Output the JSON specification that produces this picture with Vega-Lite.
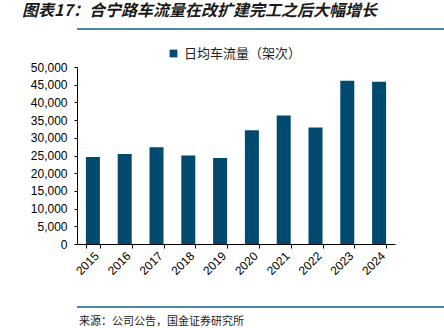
{
  "$schema": "https://vega.github.io/schema/vega-lite/v6.json",
  "padding": {"left": 19, "top": 3, "right": 0, "bottom": 0},
  "background": "white",
  "spacing": 17,
  "align": "none",
  "bounds": "full",
  "resolve": {
    "scale": {"color": "independent", "x": "independent", "y": "independent"},
    "legend": {"color": "independent"},
    "axis": {"x": "independent", "y": "independent"}
  },
  "title": {
    "text": "图表17：合宁路车流量在改扩建完工之后大幅增长",
    "anchor": "start",
    "frame": "bounds",
    "font": "Noto Sans CJK SC",
    "fontSize": 16,
    "fontWeight": "bold",
    "fontStyle": "italic",
    "color": "#1a1a1a",
    "dx": 3,
    "offset": 8
  },
  "config": {
    "view": {"stroke": null},
    "font": "Liberation Sans"
  },
  "datasets": {
    "traffic": [
      {"year": "2015", "value": 24600, "series": "日均车流量（架次）"},
      {"year": "2016", "value": 25400, "series": "日均车流量（架次）"},
      {"year": "2017", "value": 27350, "series": "日均车流量（架次）"},
      {"year": "2018", "value": 25000, "series": "日均车流量（架次）"},
      {"year": "2019", "value": 24300, "series": "日均车流量（架次）"},
      {"year": "2020", "value": 32150, "series": "日均车流量（架次）"},
      {"year": "2021", "value": 36300, "series": "日均车流量（架次）"},
      {"year": "2022", "value": 32900, "series": "日均车流量（架次）"},
      {"year": "2023", "value": 46150, "series": "日均车流量（架次）"},
      {"year": "2024", "value": 45850, "series": "日均车流量（架次）"}
    ],
    "topline": [{"a": 0, "b": 1, "c": 0}],
    "bottomline": [{"p": 0, "q": 1, "r": 0}]
  },
  "vconcat": [
    {
      "width": 425,
      "height": 2,
      "data": {"name": "topline"},
      "mark": {"type": "rule", "color": "#4a87a8", "strokeWidth": 2},
      "encoding": {
        "x": {"field": "a", "type": "quantitative", "axis": null, "scale": {"domain": [0, 1]}},
        "x2": {"field": "b"},
        "y": {"field": "c", "type": "quantitative", "axis": null, "scale": {"domain": [0, 1]}}
      }
    },
    {
      "width": 318,
      "height": 177,
      "data": {"name": "traffic"},
      "mark": {"type": "bar", "width": 14},
      "encoding": {
        "x": {
          "field": "year",
          "type": "nominal",
          "title": null,
          "scale": {"paddingInner": 0.55, "paddingOuter": 0.275},
          "axis": {
            "labelAngle": -45,
            "labelFont": "Liberation Sans",
            "labelFontSize": 12,
            "labelColor": "#000000",
            "tickBand": "extent",
            "tickSize": 4,
            "tickColor": "#000000",
            "domainColor": "#000000",
            "labelPadding": 2
          }
        },
        "y": {
          "field": "value",
          "type": "quantitative",
          "title": null,
          "scale": {"domain": [0, 50000], "nice": false},
          "axis": {
            "values": [0, 5000, 10000, 15000, 20000, 25000, 30000, 35000, 40000, 45000, 50000],
            "format": ",d",
            "grid": false,
            "labelFont": "Liberation Sans",
            "labelFontSize": 12,
            "labelColor": "#000000",
            "tickSize": 3,
            "tickColor": "#000000",
            "domainColor": "#000000",
            "labelPadding": 7,
            "minExtent": 58
          }
        },
        "color": {
          "field": "series",
          "type": "nominal",
          "scale": {"range": ["#004a6f"]},
          "legend": {
            "orient": "none",
            "legendX": 90,
            "legendY": -20,
            "direction": "horizontal",
            "title": null,
            "symbolType": "square",
            "symbolSize": 60,
            "labelFont": "Noto Sans CJK SC",
            "labelFontSize": 13,
            "labelColor": "#222222"
          }
        }
      }
    },
    {
      "width": 425,
      "height": 13,
      "data": {"name": "bottomline"},
      "title": {
        "text": "来源：公司公告，国金证券研究所",
        "orient": "bottom",
        "anchor": "start",
        "font": "Noto Sans CJK SC",
        "fontSize": 11,
        "fontWeight": "normal",
        "color": "#222222",
        "dx": 3,
        "offset": 8
      },
      "mark": {"type": "rule", "color": "#4a87a8", "strokeWidth": 2},
      "encoding": {
        "x": {"field": "p", "type": "quantitative", "axis": null, "scale": {"domain": [0, 1]}},
        "x2": {"field": "q"},
        "y": {"field": "r", "type": "quantitative", "axis": null, "scale": {"domain": [0, 1]}}
      }
    }
  ]
}
